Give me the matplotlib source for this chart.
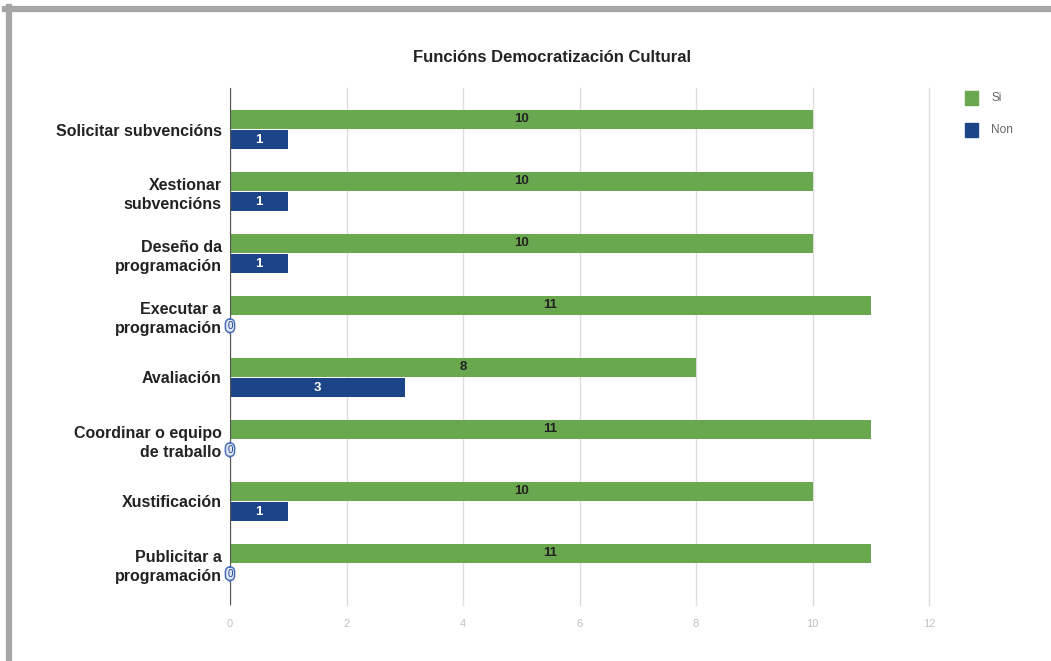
import matplotlib
matplotlib.use("Agg")
import matplotlib.pyplot as plt
from matplotlib.patches import Rectangle
from matplotlib.lines import Line2D
import numpy as np

plt.rcParams['font.family'] = ['Liberation Sans', 'DejaVu Sans']

title = "Funcións Democratización Cultural"
categories = ["Solicitar subvencións", "Xestionar\nsubvencións", "Deseño da\nprogramación",
              "Executar a\nprogramación", "Avaliación", "Coordinar o equipo\nde traballo",
              "Xustificación", "Publicitar a\nprogramación"]
si_values = [10, 10, 10, 11, 8, 11, 10, 11]
non_values = [1, 1, 1, 0, 3, 0, 1, 0]
series_names = ["Si", "Non"]
xticks = [0, 2, 4, 6, 8, 10, 12]

green = "#6aa84f"
blue = "#1c4587"

W, H = 1051, 661
fig = plt.figure(figsize=(W / 100, H / 100), dpi=100)

# grey frame (top and left)
fig.add_artist(Line2D([5 / W, 1], [1 - 9 / H, 1 - 9 / H], color="#a6a6a6", lw=4.5,
                      transform=fig.transFigure))
fig.add_artist(Line2D([9 / W, 9 / W], [0, 1 - 7 / H], color="#a6a6a6", lw=4.5,
                      transform=fig.transFigure))

ax_left, ax_right = 230 / W, 929 / W
ax_top, ax_bot = 1 - 88 / H, 1 - 605 / H
ax = fig.add_axes([ax_left, ax_bot, ax_right - ax_left, ax_top - ax_bot])

y = np.arange(len(categories))
bh = 0.3
off = 0.165
ax.barh(y - off, si_values, height=bh, color=green, zorder=3)
ax.barh(y + off, non_values, height=bh, color=blue, zorder=3)

for yi, v in zip(y, si_values):
    ax.text(v / 2, yi - off, str(v), ha="center", va="center", fontsize=9.5,
            fontweight="bold", color="#222222", zorder=4)
for yi, v in zip(y, non_values):
    if v > 0:
        ax.text(v / 2, yi + off, str(v), ha="center", va="center", fontsize=9.5,
                fontweight="bold", color="white", zorder=4)
    else:
        ax.text(0, yi + off, str(v), ha="center", va="center", fontsize=7,
                color="#1c4587", zorder=5,
                bbox=dict(boxstyle="round,pad=0.2,rounding_size=0.55", fc="#dfe6f2",
                          ec="#4a72b8", lw=1.1))

ax.set_xlim(0, 12)
ax.set_ylim(7.67, -0.67)
ax.set_xticks(xticks)
ax.set_xticklabels([str(t) for t in xticks], color="#c0c0c0", fontsize=8)
ax.set_yticks(y)
ax.set_yticklabels(categories, fontsize=11.5, fontweight="bold", color="#222222",
                   linespacing=1.33)
ax.tick_params(axis="both", length=0)
ax.tick_params(axis="x", pad=10)
ax.tick_params(axis="y", pad=6)
for s in ax.spines.values():
    s.set_visible(False)
ax.grid(axis="x", color="#dddddd", lw=1, zorder=0)
for gl in ax.get_xgridlines():
    gl.set_clip_on(False)
ax.axvline(0, color="#555555", lw=1.6, zorder=4)

fig.text(552 / W, 1 - 57 / H, title, ha="center", va="center", fontsize=12,
         fontweight="bold", color="#222222")

# legend
for i, (name, c) in enumerate(zip(series_names, [green, blue])):
    yc = 98 + i * 32
    fig.add_artist(Rectangle((965 / W, 1 - (yc + 7) / H), 13 / W, 14 / H,
                             color=c, transform=fig.transFigure))
    fig.text(991 / W, 1 - yc / H, name, ha="left", va="center", fontsize=8.5,
             color="#666666")

fig.savefig("out.png", dpi=100)
